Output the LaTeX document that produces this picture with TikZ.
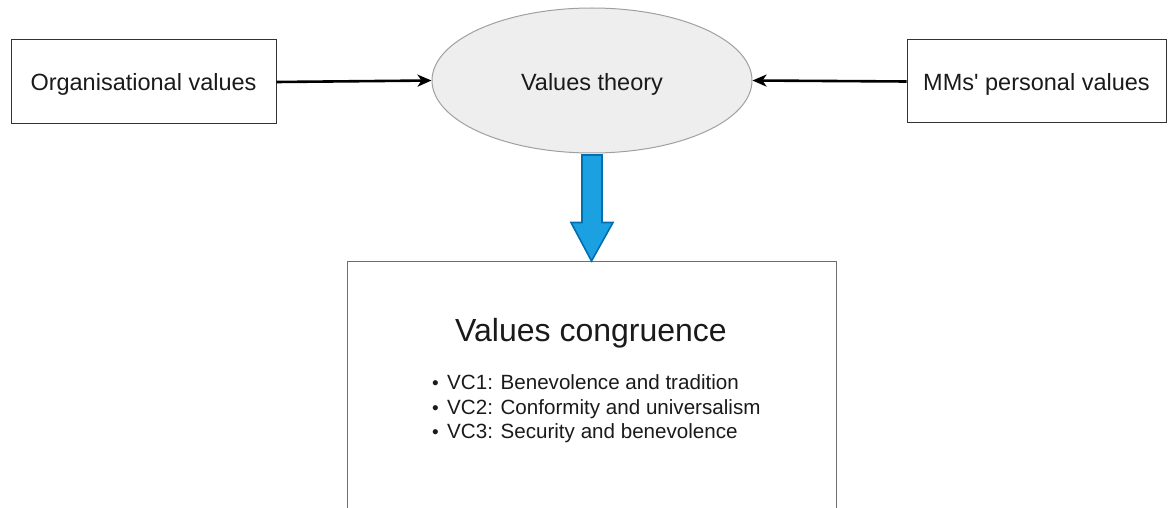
\documentclass[tikz,border=0pt]{standalone}
\usepackage{fontspec}
\setmainfont{Liberation Sans}[Ligatures=TeXOff]
\usetikzlibrary{arrows.meta,calc,shapes.geometric}

\definecolor{ellfill}{HTML}{EEEEEE}
\definecolor{ellline}{HTML}{A0A0A0}
\definecolor{arrfill}{HTML}{1BA1E2}
\definecolor{arrline}{HTML}{006EAF}
\definecolor{boxline}{HTML}{333333}
\definecolor{bigline}{HTML}{6E6E6E}
\definecolor{txt}{HTML}{1A1A1A}

\newcommand{\dotitem}{\makebox[19pt][l]{\hspace{4pt}\fontsize{19}{19}\selectfont•}}

\tikzset{
  valbox/.style={draw=boxline, line width=1pt, rectangle, inner sep=0pt,
    minimum width=265pt, minimum height=84pt, text=txt,
    text height=18pt, text depth=0pt,
    font=\fontsize{23.5}{28}\selectfont},
  theory/.style={draw=ellline, line width=1pt, fill=ellfill, ellipse, inner sep=0pt,
    minimum width=320pt, minimum height=145pt, text=txt,
    text height=20pt, text depth=0pt,
    font=\fontsize{23.5}{28}\selectfont},
  feed/.style={line width=2.6pt, draw=black,
    -{Stealth[length=14pt,width=12pt,inset=4pt]}},
  bigarrow/.style={draw=arrline, line width=1.6pt, fill=arrfill, line join=miter},
}

\begin{document}
\begin{tikzpicture}[x=1pt,y=-1pt]
  \useasboundingbox (0,0) rectangle (1168,508);
  \clip (0,0) rectangle (1168,508);

  % the two sources of values and the theory between them
  \node[valbox] (org) at (143.5,82) {Organisational values};
  \node[valbox, minimum width=259pt, minimum height=83pt] (mms) at (1036.5,81.5) {MMs' personal values};
  \node[theory] (vt) at (592,80.5) {Values theory};

  % the congruence panel, running past the lower edge
  \node[draw=bigline, line width=1pt, rectangle, inner sep=0pt,
        minimum width=489pt, minimum height=280pt, anchor=north] (vc) at (591.5,261) {};
  \node[text=txt, font=\fontsize{32}{38}\selectfont, inner sep=0pt] (title) at (591,333) {Values congruence};
  \node[text=txt, font=\fontsize{20.6}{24.5}\selectfont, align=left, inner sep=0pt, anchor=west] (list) at (428,409)
    {\dotitem VC1: Benevolence and tradition\\
     \dotitem VC2: Conformity and universalism\\
     \dotitem VC3: Security and benevolence};

  % inputs to the theory
  \draw[feed] (org.east) -- (vt.west);
  \draw[feed] (mms.west) -- (vt.east);

  % block arrow from the theory down to the congruence panel
  \coordinate (top) at ($(vt.south)+(0,1.5)$);
  \coordinate (tip) at (vc.north);
  \draw[bigarrow]
    ($(top)+(-10,0)$) -- ($(top)+(10,0)$) -- ($(top)+(10,67.5)$) -- ($(top)+(21,67.5)$)
    -- (tip) -- ($(top)+(-21,67.5)$) -- ($(top)+(-10,67.5)$) -- cycle;
\end{tikzpicture}
\end{document}
